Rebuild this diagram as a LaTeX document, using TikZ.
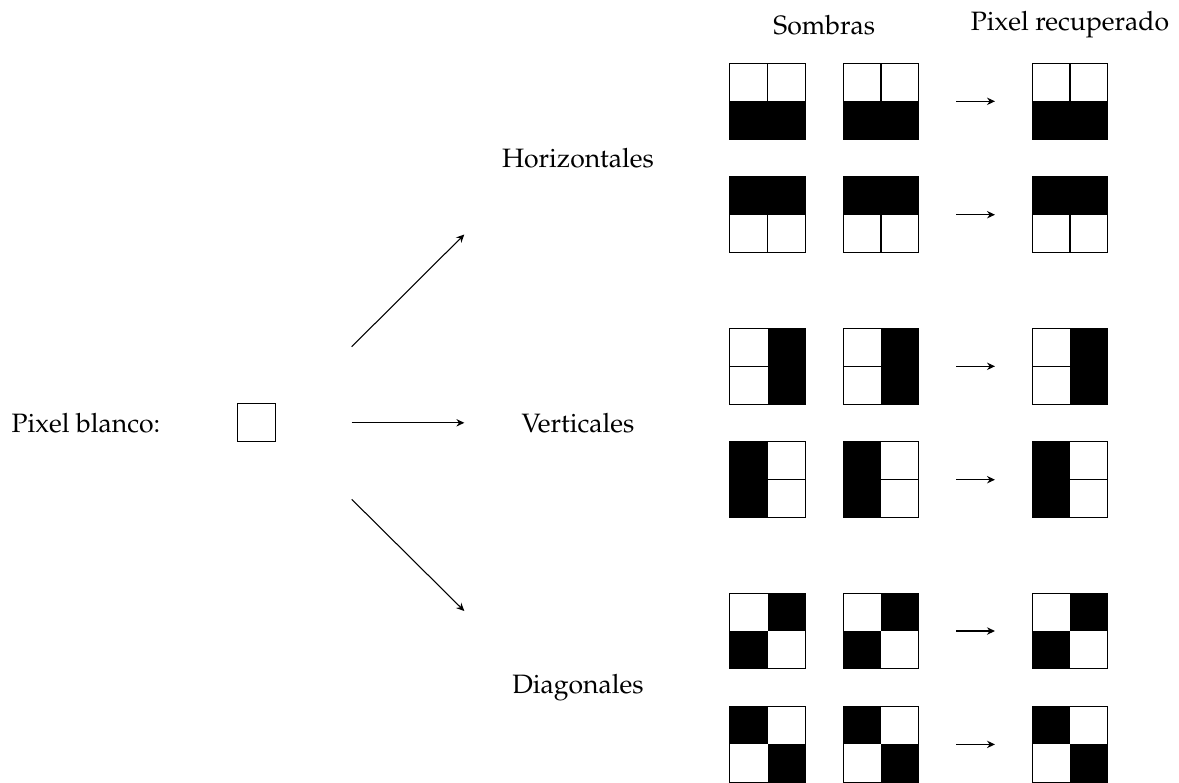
\documentclass[tikz,border=0pt]{standalone}
\usepackage[T1]{fontenc}
\usepackage{mathpazo}
\usetikzlibrary{arrows.meta}
\tikzset{
  gridbox/.style={minimum size=1cm, inner sep=0pt, outer sep=0pt},
  pixbox/.style={draw=black, minimum size=0.5cm, inner sep=0pt, outer sep=0pt},
  tiphead/.style={-{Stealth[length=3pt,width=2.8pt,inset=1pt]}},
  mainarrow/.style={tiphead, line width=0.4pt},
  smallarrow/.style={tiphead, line width=0.4pt, shorten <=0.493cm, shorten >=0.493cm},
  lbl/.style={inner sep=1pt},
}
\newcommand\pixgrid[4]{%
  \node[gridbox] (#1) at (#2,#3) {};
  \ifcase#4
    \fill (#1.west) rectangle (#1.south east); \draw (#1.north) -- (#1.center);
  \or
    \fill (#1.north west) rectangle (#1.east); \draw (#1.center) -- (#1.south);
  \or
    \fill (#1.north) rectangle (#1.south east); \draw (#1.west) -- (#1.center);
  \or
    \fill (#1.north west) rectangle (#1.south); \draw (#1.center) -- (#1.east);
  \or
    \fill (#1.north) rectangle (#1.east); \fill (#1.west) rectangle (#1.south);
  \or
    \fill (#1.north west) rectangle (#1.center); \fill (#1.center) rectangle (#1.south east);
  \fi
  \draw (#1.north west) rectangle (#1.south east);}
\begin{document}
\begin{tikzpicture}[x=0.0132275cm, y=-0.0132275cm]
\useasboundingbox (0,0) rectangle (1179,782);
% headings
\node[lbl] (sombras) at (824.3,25) {Sombras};
\node[lbl] (recup) at (1070,25) {Pixel recuperado};
% grids
\foreach \r/\yy/\t in {1/101.3/0, 2/214.7/1, 3/366.3/2, 4/479.7/3, 5/631/4, 6/744.4/5} {
  \pixgrid{a\r}{767.6}{\yy}{\t}
  \pixgrid{b\r}{881}{\yy}{\t}
  \pixgrid{c\r}{1070}{\yy}{\t}
  \draw[smallarrow] (b\r) -- (c\r);
}
% left part
\node[lbl] (blanco) at (86,423) {Pixel blanco:};
\node[pixbox] (pix) at (256.8,422.8) {};
\node[lbl] (hor) at (578,158) {Horizontales};
\node[lbl] (ver) at (578,423) {Verticales};
\node[lbl] (diag) at (578,687.5) {Diagonales};
\coordinate (s1) at (351.7,346.7);
\coordinate (e1) at (464.3,234.5);
\coordinate (s2) at (351.7,422.8);
\coordinate (e2) at (464.3,422.8);
\coordinate (s3) at (351.7,499.3);
\coordinate (e3) at (464.3,611);
\draw[mainarrow] (s1) -- (e1);
\draw[mainarrow] (s2) -- (e2);
\draw[mainarrow] (s3) -- (e3);
\end{tikzpicture}
\end{document}
